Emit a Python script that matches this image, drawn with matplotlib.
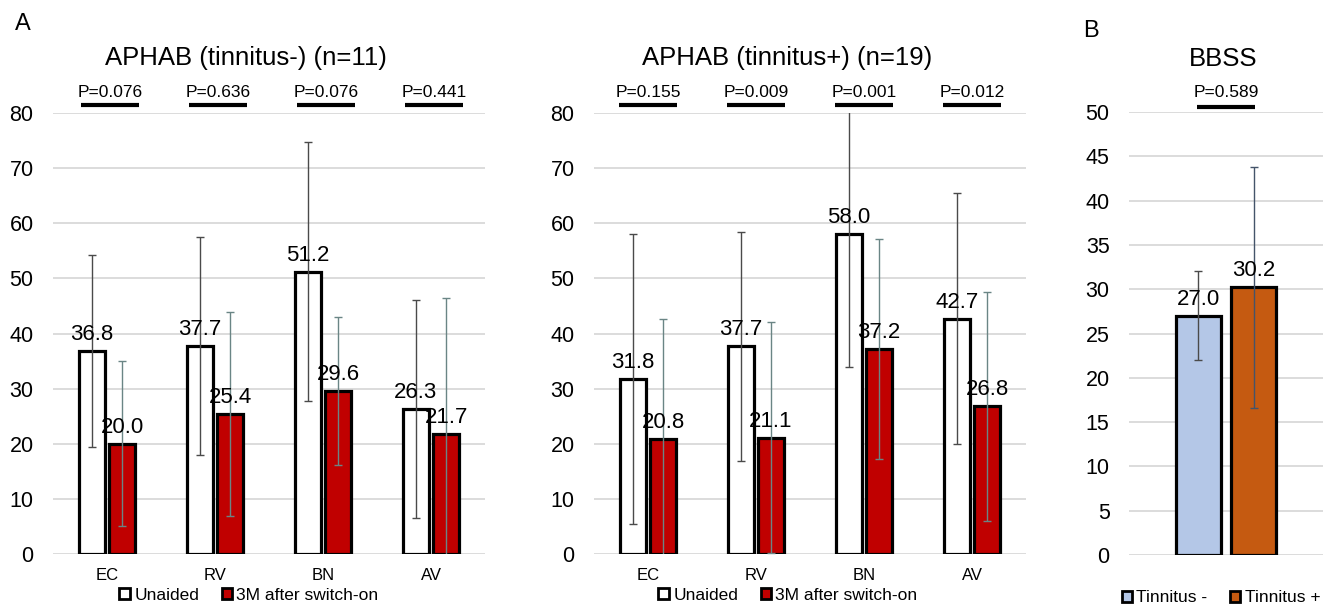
import matplotlib
matplotlib.use("Agg")
import matplotlib.pyplot as plt
from matplotlib.patches import Patch

plt.rcParams["font.family"] = ["Liberation Sans", "DejaVu Sans"]

# ── data ──────────────────────────────────────────────────────────────────────
CATS          = ["EC", "RV", "BN", "AV"]

NEG_UNAIDED   = [36.8, 37.7, 51.2, 26.3]
NEG_UNAIDED_E = [17.4, 19.8, 23.5, 19.7]
NEG_AIDED     = [20.0, 25.4, 29.6, 21.7]
NEG_AIDED_E   = [15.0, 18.5, 13.4, 24.8]
NEG_P         = ["P=0.076", "P=0.636", "P=0.076", "P=0.441"]

POS_UNAIDED   = [31.8, 37.7, 58.0, 42.7]
POS_UNAIDED_E = [26.3, 20.8, 24.0, 22.7]
POS_AIDED     = [20.8, 21.1, 37.2, 26.8]
POS_AIDED_E   = [21.8, 20.9, 19.9, 20.8]
POS_P         = ["P=0.155", "P=0.009", "P=0.001", "P=0.012"]

BBSS_LABELS   = ["Tinnitus -", "Tinnitus +"]
BBSS_VALS     = [27.0, 30.2]
BBSS_ERR      = [5.0, 13.6]
BBSS_P        = "P=0.589"

SERIES        = ["Unaided", "3M after switch-on"]

# ── style ─────────────────────────────────────────────────────────────────────
W, H      = 1325, 607
GRID      = "#D9D9D9"
RED       = "#C00000"
BLUE      = "#B4C7E7"
ORANGE    = "#C55A11"
BAR_W     = 0.24
OFF       = 0.14


def style_axis(ax, ymax, step):
    ax.set_ylim(0, ymax)
    ax.set_yticks(range(0, ymax + 1, step))
    ax.yaxis.grid(True, color=GRID, lw=1.3)
    ax.set_axisbelow(True)
    for s in ax.spines.values():
        s.set_visible(False)
    ax.tick_params(axis="y", length=0, pad=14, labelsize=15.5)
    ax.tick_params(axis="x", length=0, pad=10, labelsize=12)


def p_bar(ax, x, y_line, y_text, text, half=0.27):
    ax.plot([x - half, x + half], [y_line, y_line], color="black", lw=3,
            clip_on=False, solid_capstyle="butt")
    ax.text(x, y_text, text, ha="center", va="baseline", fontsize=12.5)


def aphab(ax, unaided, u_err, aided, a_err, pvals, shift=0.0):
    xs = list(range(len(CATS)))
    xu = [x - OFF for x in xs]
    xa = [x + OFF for x in xs]
    ax.bar(xu, unaided, BAR_W, color="white", edgecolor="black", lw=2.3, zorder=2)
    ax.bar(xa, aided, BAR_W, color=RED, edgecolor="black", lw=2.3, zorder=2)
    ax.errorbar(xu, unaided, yerr=u_err, fmt="none", ecolor="#4a4a4a",
                elinewidth=1, capsize=3, capthick=1, zorder=3)
    ax.errorbar(xa, aided, yerr=a_err, fmt="none", ecolor="#6A8585",
                elinewidth=1, capsize=3, capthick=1, zorder=3)
    for x, v in zip(xu + xa, unaided + aided):
        ax.text(x, v + 1.1, f"{v:.1f}", ha="center", va="bottom", fontsize=16, zorder=4)
    for x, p in zip(xs, pvals):
        p_bar(ax, x + shift, 81.5, 82.9, p)
    style_axis(ax, 80, 10)
    ax.set_xlim(-0.5, len(CATS) - 0.5)
    ax.set_xticks(xs)
    ax.set_xticklabels(CATS)


def main():
    fig = plt.figure(figsize=(W / 100, H / 100), dpi=100)

    ax1 = fig.add_axes([53 / W, 1 - 554 / H, 432 / W, 441 / H])
    ax2 = fig.add_axes([594 / W, 1 - 554 / H, 432 / W, 441 / H])
    ax3 = fig.add_axes([1129 / W, 1 - 555 / H, 194 / W, 443 / H])

    aphab(ax1, NEG_UNAIDED, NEG_UNAIDED_E, NEG_AIDED, NEG_AIDED_E, NEG_P, shift=0.03)
    aphab(ax2, POS_UNAIDED, POS_UNAIDED_E, POS_AIDED, POS_AIDED_E, POS_P)

    # BBSS panel
    xb = [-0.142, 0.142]
    ax3.bar(xb, BBSS_VALS, 0.232, color=[BLUE, ORANGE], edgecolor="black", lw=2.3, zorder=2)
    for x, v, e, c in zip(xb, BBSS_VALS, BBSS_ERR, ["#4a4a4a", "#44546A"]):
        ax3.errorbar([x], [v], yerr=[e], fmt="none", ecolor=c,
                     elinewidth=1, capsize=3, capthick=1, zorder=3)
        ax3.text(x, v + 0.7, f"{v:.1f}", ha="center", va="bottom", fontsize=16, zorder=4)
    p_bar(ax3, 0.0, 50.56, 51.7, BBSS_P, half=0.15)
    style_axis(ax3, 50, 5)
    ax3.set_xlim(-0.5, 0.5)
    ax3.set_xticks([])

    # titles + panel letters
    fig.text(246 / W, 1 - 58 / H, "APHAB (tinnitus-) (n=11)", ha="center", va="center", fontsize=18.5)
    fig.text(787 / W, 1 - 58 / H, "APHAB (tinnitus+) (n=19)", ha="center", va="center", fontsize=18.5)
    fig.text(1223 / W, 1 - 59 / H, "BBSS", ha="center", va="center", fontsize=18.5)
    fig.text(23 / W, 1 - 24 / H, "A", ha="center", va="center", fontsize=17)
    fig.text(1091 / W, 1 - 31 / H, "B", ha="center", va="center", fontsize=17)

    # legends
    leg_kw = dict(loc="center", ncol=2, frameon=False, fontsize=12.5, handlelength=0.6,
                  handleheight=0.6, handletextpad=0.25, columnspacing=1.3, borderpad=0)
    h12 = [Patch(facecolor="white", edgecolor="black", lw=2),
           Patch(facecolor=RED, edgecolor="black", lw=2)]
    fig.legend(h12, SERIES, bbox_to_anchor=(249 / W, 1 - 595 / H), **leg_kw)
    fig.legend(h12, SERIES, bbox_to_anchor=(788 / W, 1 - 595 / H), **leg_kw)
    h3 = [Patch(facecolor=BLUE, edgecolor="black", lw=2),
          Patch(facecolor=ORANGE, edgecolor="black", lw=2)]
    fig.legend(h3, BBSS_LABELS, bbox_to_anchor=(1221 / W, 1 - 598 / H), **leg_kw)

    fig.savefig("out.png", dpi=100)
    plt.close(fig)


if __name__ == "__main__":
    main()
